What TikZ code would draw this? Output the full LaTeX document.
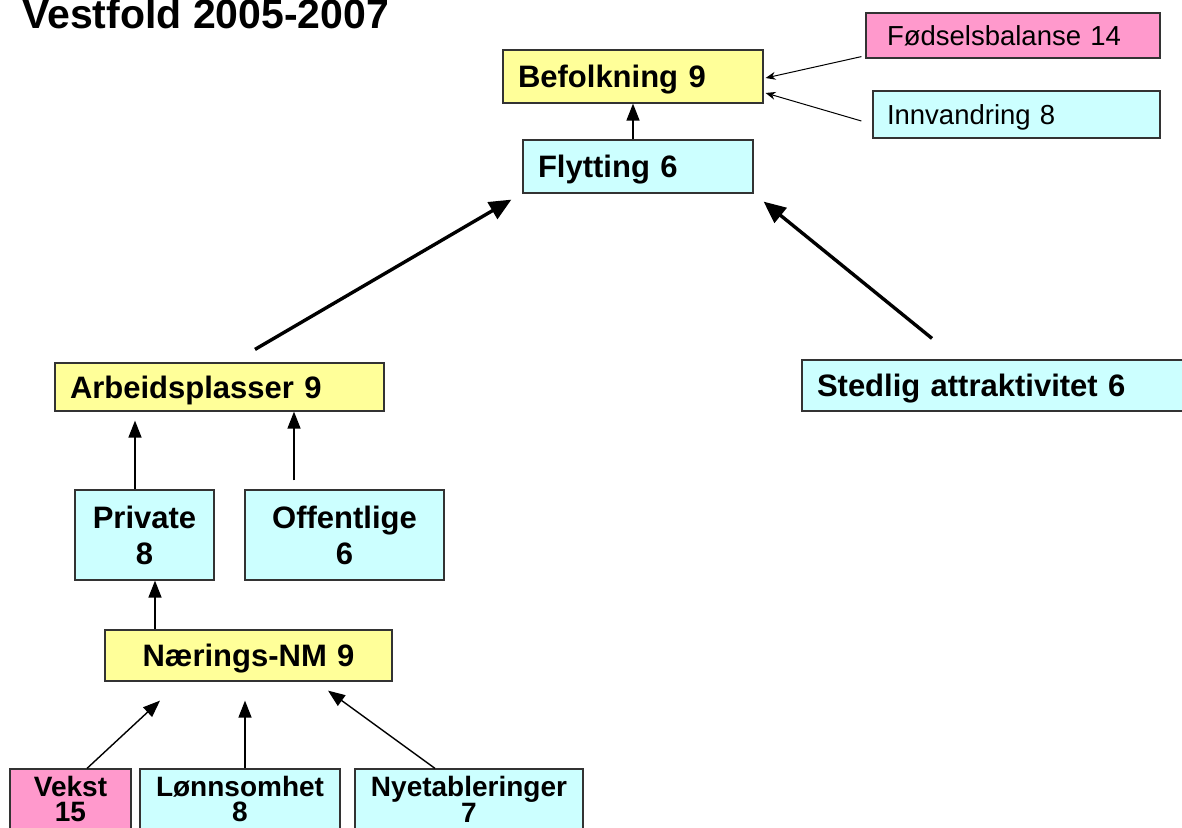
\documentclass[tikz,border=0pt]{standalone}
\usepackage{fontspec}
\setmainfont{Liberation Sans}
\usetikzlibrary{arrows.meta,calc}
\definecolor{boxyellow}{HTML}{FFFF99}
\definecolor{boxcyan}{HTML}{CCFFFF}
\definecolor{boxpink}{HTML}{FF99CC}
\definecolor{edge}{HTML}{333333}
\tikzset{
  box/.style={draw=edge, line width=1.2pt, rectangle, inner ysep=0pt},
  bl/.style={box, align=left, inner xsep=15pt, text depth=0pt, font=\fontsize{31}{36}\selectfont\bfseries},
  bc/.style={box, align=center, inner xsep=0pt, text depth=0pt, font=\fontsize{31}{36}\selectfont\bfseries},
  bm/.style={box, align=center, inner xsep=0pt, font=\fontsize{31}{36}\selectfont\bfseries},
  bs/.style={box, align=center, inner xsep=0pt, font=\fontsize{28}{24.5}\selectfont\bfseries},
  rl/.style={box, align=left, text depth=0pt, font=\fontsize{27.5}{32}\selectfont},
  yel/.style={fill=boxyellow},
  cya/.style={fill=boxcyan},
  pnk/.style={fill=boxpink},
  thinarr/.style={line width=1pt, -{Stealth[length=10pt,width=8pt]}},
  midarr/.style={line width=1.4pt, -{Triangle[length=17pt,width=13pt]}},
  thickarr/.style={line width=3.4pt, -{Triangle[length=22pt,width=19pt]}},
}
\begin{document}
\begin{tikzpicture}[x=1pt,y=-1pt]
\useasboundingbox (0,0) rectangle (1182,827);
% title
\node[anchor=base west, inner sep=0pt, font=\fontsize{41}{48}\selectfont\bfseries] (title) at (22,28) {Vestfold 2005-2007};
% top
\node[bl, yel, minimum width=260pt, minimum height=53pt, text width=230pt] (bef) at (633,76.5) {Befolkning 9};
\node[bl, cya, minimum width=230pt, minimum height=53pt, text width=200pt] (flyt) at (638,166.5) {Flytting 6};
\node[rl, pnk, inner xsep=21pt, minimum width=294pt, minimum height=45pt, text width=252pt] (fod) at (1013,35.5) {Fødselsbalanse 14};
\node[rl, cya, inner xsep=14pt, minimum width=287pt, minimum height=47pt, text width=259pt] (innv) at (1016.5,114.5) {Innvandring 8};
% middle
\node[bl, yel, minimum width=329pt, minimum height=48pt, text width=299pt] (arb) at (219.5,387) {Arbeidsplasser 9};
\node[bl, cya, minimum width=393pt, minimum height=51pt, text width=363pt] (sted) at (998.5,385.5) {Stedlig attraktivitet 6};
\node[bm, cya, minimum width=139pt, minimum height=90pt, text width=139pt] (priv) at (144.5,535) {Private\\8};
\node[bm, cya, minimum width=199pt, minimum height=90pt, text width=199pt] (off) at (344.5,535) {Offentlige\\6};
\node[bc, yel, minimum width=287pt, minimum height=51pt, text width=287pt] (naer) at (248.5,655.5) {Nærings-NM 9};
% bottom
\node[bs, pnk, minimum width=121pt, minimum height=60pt, text width=121pt] (vekst) at (70.5,799) {Vekst\\15};
\node[bs, cya, minimum width=200pt, minimum height=60pt, text width=200pt] (lonn) at (240,799) {Lønnsomhet\\8};
\node[bs, cya, minimum width=228pt, minimum height=60pt, text width=228pt] (nye) at (469,799) {Nyetableringer\\7};
% connectors
\draw[thinarr] ($(fod.south west)+(-4,-2)$) -- ($(bef.east)+(2,1.5)$);
\draw[thinarr] ($(innv.west)+(-11,6.5)$) -- ($(bef.east)+(2,16.5)$);
\draw[midarr] ($(flyt.north)+(-5,0)$) -- (bef.south);
\draw[thickarr] ($(arb.north)+(35.5,-13)$) -- ($(flyt.south west)+(-11,6)$);
\draw[thickarr] ($(sted.north)+(-66.5,-21)$) -- ($(flyt.south east)+(10,8)$);
\draw[midarr] ($(priv.north)+(-9.5,0)$) -- ($(arb.south)+(-84.5,9)$);
\draw[midarr] ($(off.north)+(-50.5,-9)$) -- ($(arb.south)+(74.5,0)$);
\draw[midarr] ($(naer.north)+(-93.5,0)$) -- ($(priv.south)+(10.5,0)$);
\draw[midarr] ($(vekst.north)+(16.5,0)$) -- ($(naer.south)+(-88.5,19)$);
\draw[midarr] ($(lonn.north)+(5,0)$) -- ($(naer.south)+(-3.5,19)$);
\draw[midarr] ($(nye.north)+(-34,0)$) -- ($(naer.south)+(79.5,9)$);
\end{tikzpicture}
\end{document}
